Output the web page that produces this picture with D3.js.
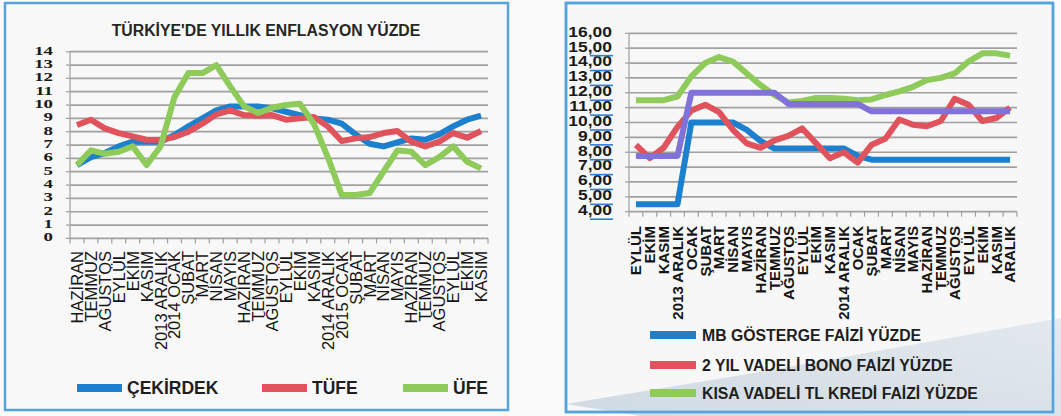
<!DOCTYPE html>
<html><head><meta charset="utf-8">
<script src="https://cdn.jsdelivr.net/npm/d3@7/dist/d3.min.js"></script>
<style>body{margin:0;background:#fafafa;} svg{display:block}</style>
</head><body><svg id="c" width="1061" height="416"></svg>
<script>
// ---------- DATA ----------
const leftTitle = "TÜRKİYE'DE YILLIK ENFLASYON YÜZDE";
const leftCategories = ["HAZİRAN","TEMMUZ","AĞUSTOS","EYLÜL","EKİM","KASIM","2013 ARALIK","2014 OCAK","ŞUBAT","MART","NİSAN","MAYIS","HAZİRAN","TEMMUZ","AĞUSTOS","EYLÜL","EKİM","KASIM","2014 ARALIK","2015 OCAK","ŞUBAT","MART","NİSAN","MAYIS","HAZİRAN","TEMMUZ","AĞUSTOS","EYLÜL","EKİM","KASIM"];
const cekirdek = [5.5,6.1,6.4,6.9,7.25,7.25,7.25,7.75,8.4,9.0,9.6,9.9,9.9,9.9,9.75,9.5,9.25,9.0,8.9,8.6,7.8,7.1,6.9,7.2,7.5,7.4,7.8,8.4,8.9,9.2];
const tufe = [8.5,8.9,8.25,7.9,7.65,7.4,7.4,7.6,8.0,8.6,9.3,9.6,9.25,9.2,9.25,8.9,9.0,9.1,8.4,7.3,7.5,7.6,7.9,8.05,7.25,6.9,7.25,7.9,7.55,8.05];
const ufe = [5.5,6.6,6.35,6.5,6.9,5.5,6.9,10.6,12.4,12.4,13.0,11.4,9.9,9.4,9.8,10.0,10.1,8.6,6.1,3.25,3.25,3.4,5.0,6.6,6.5,5.5,6.1,6.9,5.75,5.25];
const leftTicks = [0,1,2,3,4,5,6,7,8,9,10,11,12,13,14];
const leftSeriesNames = ["ÇEKİRDEK","TÜFE","ÜFE"];

const rightCategories = ["EYLÜL","EKİM","KASIM","2013 ARALIK","OCAK","ŞUBAT","MART","NİSAN","MAYIS","HAZİRAN","TEMMUZ","AĞUSTOS","EYLÜL","EKİM","KASIM","2014 ARALIK","OCAK","ŞUBAT","MART","NİSAN","MAYIS","HAZİRAN","TEMMUZ","AĞUSTOS","EYLÜL","EKİM","KASIM","ARALIK"];
const mbFaizi = [4.5,4.5,4.5,4.5,10,10,10,10,9.5,8.75,8.25,8.25,8.25,8.25,8.25,8.25,7.75,7.5,7.5,7.5,7.5,7.5,7.5,7.5,7.5,7.5,7.5,7.5];
const bonoFaizi = [8.5,7.6,8.3,9.7,10.8,11.2,10.7,9.5,8.6,8.3,8.8,9.1,9.6,8.6,7.6,8.0,7.3,8.5,8.9,10.2,9.85,9.75,10.1,11.6,11.2,10.1,10.3,11.0];
const krediFaizi = [11.5,11.5,11.5,11.75,13.1,14.0,14.4,14.1,13.3,12.5,11.85,11.35,11.45,11.65,11.65,11.6,11.5,11.55,11.85,12.1,12.4,12.85,13.0,13.3,14.1,14.65,14.65,14.5];
const ustBant = [7.75,7.75,7.75,7.75,12,12,12,12,12,12,12,11.25,11.25,11.25,11.25,11.25,11.25,10.75,10.75,10.75,10.75,10.75,10.75,10.75,10.75,10.75,10.75,10.75];
const rightTicks = [4,5,6,7,8,9,10,11,12,13,14,15,16];
const rightSeriesNames = ["MB GÖSTERGE FAİZİ YÜZDE","2 YIL VADELİ BONO FAİZİ YÜZDE","KISA VADELİ TL KREDİ FAİZİ YÜZDE"];

const BLUE = "#1c80cf", RED = "#e0535d", GREEN = "#8ecb5a", PURPLE = "#8072d9";

// ---------- DRAW ----------
const svg = d3.select("#c");
const defs = svg.append("defs");
const grad = defs.append("linearGradient").attr("id","shade").attr("x1","0").attr("y1","1").attr("x2","1").attr("y2","0");
grad.append("stop").attr("offset","0").attr("stop-color","#b9c9d6").attr("stop-opacity",0.9);
grad.append("stop").attr("offset","1").attr("stop-color","#d3dee6").attr("stop-opacity",0.8);

// panels
svg.append("rect").attr("x",5).attr("y",3).attr("width",503).attr("height",407)
  .attr("fill","#f8f8f8").attr("stroke","#55a4dc").attr("stroke-width",2.5);
svg.append("rect").attr("x",566).attr("y",3).attr("width",487).attr("height",409)
  .attr("fill","#f7f7f7").attr("stroke","#55a4dc").attr("stroke-width",2.5);

function drawChart(o) {
  const g = svg.append("g");
  const x = d3.scaleBand().domain(d3.range(o.categories.length)).range([o.x0, o.x1]);
  const y = d3.scaleLinear().domain([o.ticks[0], o.ticks[o.ticks.length-1]]).range([o.yb, o.yt]);
  // grid
  g.selectAll(".grid").data(o.ticks).join("line")
    .attr("x1", o.x0).attr("x2", o.x1)
    .attr("y1", d => y(d)).attr("y2", d => y(d))
    .attr("stroke", "#a0a0a0").attr("stroke-width", 1.7);
  // axes
  g.append("line").attr("x1",o.x0).attr("x2",o.x0).attr("y1",y.range()[1]).attr("y2",y.range()[0])
    .attr("stroke","#b0b0b0").attr("stroke-width",1.5);
  const bounds = d3.range(o.categories.length+1).map(i => i < o.categories.length ? x(i) : o.x1);
  g.selectAll(".xt").data(bounds).join("line")
    .attr("x1", d=>d).attr("x2", d=>d).attr("y1", o.yb).attr("y2", o.yb+5)
    .attr("stroke","#a0a0a0").attr("stroke-width",1.2);
  g.selectAll(".yt").data(o.ticks).join("line")
    .attr("x1", o.x0-4).attr("x2", o.x0).attr("y1", d=>y(d)).attr("y2", d=>y(d))
    .attr("stroke","#a0a0a0").attr("stroke-width",1.2);
  // y labels (narrow font stretched horizontally so stacked labels stay apart)
  g.selectAll(".yl").data(o.ticks).join("text")
    .attr("transform", d => `translate(${o.ylx},${y(d) + o.yldy}) scale(${o.ylScale},1)`)
    .attr("text-anchor","end").attr("dominant-baseline","central")
    .attr("font-family", o.ylFont).attr("font-size", o.ylSize).attr("font-weight", o.ylWeight)
    .attr("fill","#1a1a1a").text(o.ylFormat);
  // x labels
  g.selectAll(".xl").data(o.categories).join("text")
    .attr("transform", (d,i) => `translate(${x(i)+x.bandwidth()/2},${o.xly}) rotate(-90)`)
    .attr("text-anchor","end").attr("dy","0.36em")
    .attr("font-family","'Liberation Sans', Arial, sans-serif").attr("font-size", o.xlSize)
    .attr("font-weight", o.xlWeight).attr("fill","#151515").text(d => d);
  // lines
  const line = d3.line().x((d,i) => x(i)+x.bandwidth()/2).y(d => y(d));
  o.series.forEach(s => {
    g.append("path").attr("d", line(s.values)).attr("fill","none")
      .attr("stroke", s.color).attr("stroke-width", o.lw)
      .attr("stroke-linejoin","round").attr("stroke-linecap","butt");
  });
  return {x, y, g};
}

// left chart
drawChart({
  categories: leftCategories, ticks: leftTicks,
  x0: 70, x1: 488, yt: 51.7, yb: 238.4,
  ylx: 53, yldy: -1, ylFont: "'Liberation Serif', 'Times New Roman', serif", ylSize: 13, ylWeight: "bold", ylScale: 1.45,
  ylFormat: d => d,
  xly: 251, xlSize: 16.5, xlWeight: "normal", lw: 6,
  series: [{values: cekirdek, color: BLUE},{values: tufe, color: RED},{values: ufe, color: GREEN}]
});
svg.append("text").attr("x", 266).attr("y", 30).attr("text-anchor","middle").attr("dominant-baseline","central")
  .attr("font-family","'Liberation Sans', Arial, sans-serif").attr("font-weight","bold").attr("font-size",15.8)
  .attr("fill","#262626").text(leftTitle);

// left legend
const leftLegendX = [77, 262, 403];
[BLUE, RED, GREEN].forEach((c, i) => {
  svg.append("line").attr("x1", leftLegendX[i]).attr("x2", leftLegendX[i]+45).attr("y1",388).attr("y2",388)
    .attr("stroke", c).attr("stroke-width", 8);
  svg.append("text").attr("x", leftLegendX[i]+50).attr("y", 388).attr("dominant-baseline","central")
    .attr("font-family","'Liberation Sans', Arial, sans-serif").attr("font-weight","bold").attr("font-size",17.5)
    .attr("fill","#1e1e1e").text(leftSeriesNames[i]);
});

// right chart
const R = drawChart({
  categories: rightCategories, ticks: rightTicks,
  x0: 629, x1: 1017, yt: 33.3, yb: 211.7,
  ylx: 612, yldy: -1.5, ylFont: "'Liberation Sans', Arial, sans-serif", ylSize: 14, ylWeight: "bold", ylScale: 1.25,
  ylFormat: d => d3.format(".2f")(d).replace(".", ","),
  xly: 226, xlSize: 15, xlWeight: "bold", lw: 6,
  series: [{values: mbFaizi, color: BLUE},{values: bonoFaizi, color: RED},{values: krediFaizi, color: GREEN},{values: ustBant, color: PURPLE}]
});
// blue underline marks under right y labels
R.g.selectAll(".ul").data(rightTicks.slice(0, -1)).join("line")
  .attr("x1", 590).attr("x2", 613).attr("y1", d => R.y(d)+7.5).attr("y2", d => R.y(d)+7.5)
  .attr("stroke", "#2f7fd6").attr("stroke-width", 1.6);

// shading at bottom right
svg.append("path").attr("d","M566,404 L760,372 L1061,318 L1061,416 L640,416 Z").attr("fill","url(#shade)").attr("opacity",0.7);
svg.append("rect").attr("x",566).attr("y",3).attr("width",487).attr("height",409).attr("fill","none")
  .attr("stroke","#55a4dc").attr("stroke-width",2.5);

// right legend
const rightLegendY = [335, 365, 393];
[BLUE, RED, GREEN].forEach((c, i) => {
  svg.append("line").attr("x1", 650).attr("x2", 696).attr("y1", rightLegendY[i]).attr("y2", rightLegendY[i])
    .attr("stroke", c).attr("stroke-width", 8);
  svg.append("text").attr("x", 702).attr("y", rightLegendY[i]).attr("dominant-baseline","central")
    .attr("font-family","'Liberation Sans', Arial, sans-serif").attr("font-weight","bold").attr("font-size",15.8)
    .attr("fill","#1e1e1e").text(rightSeriesNames[i]);
});
</script></body></html>
